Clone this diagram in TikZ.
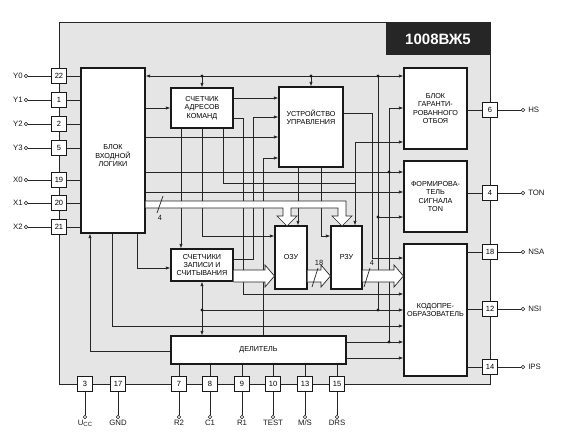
\documentclass[tikz,border=0pt]{standalone}
\usepackage{fontspec}
\setmainfont{Liberation Sans}
\usetikzlibrary{arrows.meta,positioning}

\begin{document}
\begin{tikzpicture}[x=1pt,y=-1pt,
  wire/.style={draw=black!85,line width=0.7pt},
  arr/.style={wire,-{Latex[length=4.5pt,width=3.2pt]}},
  arrs/.style={wire,{Latex[length=4.5pt,width=3.2pt]}-{Latex[length=4.5pt,width=3.2pt]}},
  box/.style={draw=black!90,line width=1.1pt,fill=white,align=center,inner sep=1pt,
     font=\fontsize{7.2}{8.4}\selectfont},
  pin/.style={draw=black!90,line width=0.8pt,fill=white,minimum size=15pt,inner sep=0pt,
     font=\fontsize{7.5}{8}\selectfont},
  term/.style={circle,draw=black!90,line width=0.6pt,fill=white,inner sep=0pt,minimum size=3.6pt},
  lbl/.style={font=\fontsize{7.8}{9}\selectfont,inner sep=1pt,text=black!90},
  num/.style={font=\fontsize{7.5}{8}\selectfont,inner sep=0pt,text=black!90},
  fat/.style={draw=black!85,line width=0.7pt,fill=white,line join=miter},
  dot/.style={fill=black!90}]
\useasboundingbox (0,0) rectangle (565,441);
% chip body and title
\fill[black!10] (59,23) rectangle (490,384);
\draw[black!85,line width=1pt] (59,23) rectangle (490,384);
\node[fill=black!85,text=white,minimum width=104,minimum height=32,inner sep=0pt,
  font=\fontsize{15}{16}\bfseries] (name) at (438,39) {1008ВЖ5};
% blocks
\node[box,minimum width=64,minimum height=165,text height=32pt] (inlog) at (113,150.5) {БЛОК\\ВХОДНОЙ\\ЛОГИКИ};
\node[box,minimum width=62,minimum height=40] (pc) at (202,108) {СЧЕТЧИК\\АДРЕСОВ\\КОМАНД};
\node[box,minimum width=64,minimum height=80,text depth=20pt] (ctrl) at (311,127) {УСТРОЙСТВО\\УПРАВЛЕНИЯ};
\node[box,minimum width=63,minimum height=81] (hold) at (435.5,108.5) {БЛОК\\ГАРАНТИ-\\РОВАННОГО\\ОТБОЯ};
\node[box,minimum width=63,minimum height=71] (ton) at (435.5,196.5) {ФОРМИРОВА-\\ТЕЛЬ\\СИГНАЛА\\TON};
\node[box,minimum width=62,minimum height=32] (cnt) at (202,265) {СЧЕТЧИКИ\\ЗАПИСИ И\\СЧИТЫВАНИЯ};
\node[box,minimum width=32,minimum height=63] (ram) at (291,257.5) {ОЗУ};
\node[box,minimum width=31,minimum height=63] (rom) at (346.5,257.5) {РЗУ};
\node[box,minimum width=63,minimum height=132] (enc) at (435.5,310) {КОДОПРЕ-\\ОБРАЗОВАТЕЛЬ};
\node[box,minimum width=175,minimum height=28] (div) at (258.5,350) {ДЕЛИТЕЛЬ};
% top line and its branches
\draw[arr] (378,76) -- (hold.west |- 0,76);
\draw[arr] (378,76) -- (inlog.east |- 0,76);
\draw[arr] (pc.north |- 0,76) -- (pc.north);
\draw[arr] (ctrl.north |- 0,76) -- (ctrl.north);
\draw[wire] (378,76) -- (378,310);
\draw[arr] (378,217) -- (ton.west |- 0,217);
% outputs of the input logic
\draw[arr] (inlog.east |- 0,108) -- (pc.west |- 0,108);
\draw[arr] (inlog.east |- 0,137) -- (ctrl.west |- 0,137);
\draw[arr] (inlog.east |- 0,172) -- (ton.west |- 0,172);
\draw[arr] (inlog.east |- 0,192) -- (ton.west |- 0,192);
\draw[arr] (inlog.south -| 112,0) |- (enc.west |- 0,326);
\draw[arr] (inlog.south -| 137,0) |- (cnt.west |- 0,268);
\draw[arr] (div.west |- 0,351) -| (inlog.south -| 90,0);
% address counter
\draw[arr] (pc.east |- 0,98) -- (ctrl.west |- 0,98);
\draw[arr] (pc.south -| 181,0) -- (cnt.north -| 181,0);
\draw[arr] (pc.south) |- (ram.west |- 0,236);
\draw[arr] (pc.east |- 0,118) -| (243,294) -- (enc.west |- 0,294);
\draw[arr] (pc.south -| 223,0) |- (355,183) -- (rom.north -| 355,0);
\draw[arr] (355,142) -- (hold.west |- 0,142);
\draw[wire] (355,142) -- (355,183);
% control unit and counters
\draw[arr] (cnt.east |- 0,259) -| (253,117) -- (ctrl.west |- 0,117);
\draw[arr] (div.north -| 263,0) |- (ctrl.west |- 0,158);
\draw[arr] (ctrl.south -| 298,0) -- (ram.north -| 298,0);
\draw[arr] (ctrl.south -| 321,0) |- (rom.west |- 0,236);
\draw[arr] (ctrl.east |- 0,113) -| (372,258) -- (enc.west |- 0,258);
\draw[arrs] (cnt.south) -- (div.north -| cnt.south);
\draw[arr] (202,310) -- (enc.west |- 0,310);
% divider outputs
\draw[arr] (div.east |- 0,342) -- (enc.west |- 0,342);
\draw[arr] (div.east |- 0,358) -- (enc.west |- 0,358);
\draw[wire] (389,342) -- (389,108);
\draw[arr] (389,108) -- (hold.west |- 0,108);
% buses
\draw[fat] (inlog.east |- 0,201) -- (346,201) -- (346,216) -- (352,216) -- (342,226) -- (332,216)
  -- (338,216) -- (338,208) -- (291,208) -- (291,216) -- (297,216) -- (287,226) -- (277,216)
  -- (283,216) -- (283,208) -- (inlog.east |- 0,208);
\draw[fat] (cnt.east |- 0,270) -- (265,270) -- (265,265) -- (ram.west |- 0,276) -- (265,287) -- (265,282) -- (cnt.east |- 0,282);
\draw[fat] (ram.east |- 0,270) -- (321,270) -- (321,265) -- (rom.west |- 0,276) -- (321,287) -- (321,282) -- (ram.east |- 0,282);
\draw[fat] (rom.east |- 0,270) -- (394,270) -- (394,265) -- (enc.west |- 0,276) -- (394,287) -- (394,282) -- (rom.east |- 0,282);
\draw[wire] (157,213) -- (163,196);
\node[num] (w1) at (160,218) {4};
\draw[wire] (312,287) -- (318,268);
\node[num] (w2) at (319,263) {18};
\draw[wire] (364,287) -- (370,268);
\node[num] (w3) at (372,263) {4};
% junctions
\foreach \p in {(202,76),(311,76),(378,76),(378,217),(378,310),(389,172),(389,342),(202,310)}
  \fill[dot] \p circle (1.6);
% left pins
\node[pin] (p22) at (59,76) {22};
\node[pin] (p1) at (59,100) {1};
\node[pin] (p2) at (59,124) {2};
\node[pin] (p5) at (59,148) {5};
\node[pin] (p19) at (59,180) {19};
\node[pin] (p20) at (59,203) {20};
\node[pin] (p21) at (59,227) {21};
\node[term,label={[lbl]left:Y0}] (y0) at (26,76) {};
\node[term,label={[lbl]left:Y1}] (y1) at (26,100) {};
\node[term,label={[lbl]left:Y2}] (y2) at (26,124) {};
\node[term,label={[lbl]left:Y3}] (y3) at (26,148) {};
\node[term,label={[lbl]left:X0}] (x0) at (26,180) {};
\node[term,label={[lbl]left:X1}] (x1) at (26,203) {};
\node[term,label={[lbl]left:X2}] (x2) at (26,227) {};
\draw[wire] (y0) -- (p22) -- (p22 -| inlog.west);
\draw[wire] (y1) -- (p1) -- (p1 -| inlog.west);
\draw[wire] (y2) -- (p2) -- (p2 -| inlog.west);
\draw[wire] (y3) -- (p5) -- (p5 -| inlog.west);
\draw[wire] (x0) -- (p19) -- (p19 -| inlog.west);
\draw[wire] (x1) -- (p20) -- (p20 -| inlog.west);
\draw[wire] (x2) -- (p21) -- (p21 -| inlog.west);
% right pins
\node[pin] (p6) at (490,110) {6};
\node[pin] (p4) at (490,193) {4};
\node[pin] (p18) at (490,252) {18};
\node[pin] (p12) at (490,309) {12};
\node[pin] (p14) at (490,367) {14};
\node[term,label={[lbl,xshift=2pt]right:HS}] (hs) at (523,110) {};
\node[term,label={[lbl,xshift=2pt]right:TON}] (tonout) at (523,193) {};
\node[term,label={[lbl,xshift=2pt]right:NSA}] (nsa) at (523,252) {};
\node[term,label={[lbl,xshift=2pt]right:NSI}] (nsi) at (523,309) {};
\node[term,label={[lbl,xshift=2pt]right:IPS}] (ips) at (523,367) {};
\draw[wire] (hold.east |- p6) -- (p6) -- (hs);
\draw[wire] (ton.east |- p4) -- (p4) -- (tonout);
\draw[wire] (enc.east |- p18) -- (p18) -- (nsa);
\draw[wire] (enc.east |- p12) -- (p12) -- (nsi);
\draw[wire] (enc.east |- p14) -- (p14) -- (ips);
% bottom pins
\node[pin] (p3) at (85,384) {3};
\node[pin] (p17) at (118,384) {17};
\node[pin] (p7) at (179,384) {7};
\node[pin] (p8) at (210,384) {8};
\node[pin] (p9) at (242,384) {9};
\node[pin] (p10) at (273,384) {10};
\node[pin] (p13) at (305,384) {13};
\node[pin] (p15) at (337,384) {15};
\node[term,label={[lbl]below:U\raisebox{-1.3pt}{\fontsize{6}{6}\selectfont CC}}] (ucc) at (85,417) {};
\node[term,label={[lbl]below:GND}] (gnd) at (118,417) {};
\node[term,label={[lbl]below:R2}] (rtwo) at (179,417) {};
\node[term,label={[lbl]below:C1}] (cone) at (210,417) {};
\node[term,label={[lbl]below:R1}] (rone) at (242,417) {};
\node[term,label={[lbl]below:TEST}] (test) at (273,417) {};
\node[term,label={[lbl]below:M/S}] (ms) at (305,417) {};
\node[term,label={[lbl]below:DRS}] (drs) at (337,417) {};
\draw[wire] (ucc) -- (p3);
\draw[wire] (gnd) -- (p17);
\draw[wire] (rtwo) -- (p7) -- (p7 |- div.south);
\draw[wire] (cone) -- (p8) -- (p8 |- div.south);
\draw[wire] (rone) -- (p9) -- (p9 |- div.south);
\draw[wire] (test) -- (p10) -- (p10 |- div.south);
\draw[wire] (ms) -- (p13) -- (p13 |- div.south);
\draw[wire] (drs) -- (p15) -- (p15 |- div.south);
\end{tikzpicture}
\end{document}
